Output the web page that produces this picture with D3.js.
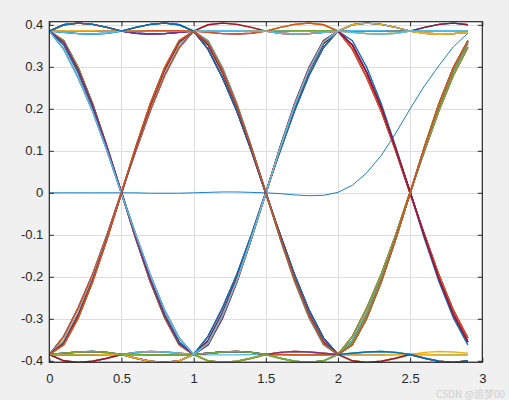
<!DOCTYPE html>
<html>
<head>
<meta charset="utf-8">
<script src="https://cdn.jsdelivr.net/npm/d3@7"></script>
<style>
  body { margin: 0; background: #f0f0f0; }
  svg { display: block; font-family: 'Liberation Sans', Arial, sans-serif; }
</style>
</head>
<body>
<svg class="chartContainer" width="509" height="400"></svg>
<script>
const xTicks = [0, 0.5, 1, 1.5, 2, 2.5, 3]
const yTicks = [-0.4, -0.3, -0.2, -0.1, 0, 0.1, 0.2, 0.3, 0.4]
const yLimits = [-0.4036, 0.4074]

// sample times of every trace (3 symbols, last sample dropped)
const sampleX = [
  0, 0.1, 0.2, 0.3, 0.4, 0.5, 0.6, 0.7, 0.8, 0.9,
  1, 1.1, 1.2, 1.3, 1.4, 1.5, 1.6, 1.7, 1.8, 1.9,
  2, 2.1, 2.2, 2.3, 2.4, 2.5, 2.6, 2.7, 2.8, 2.9
]

// falling edge of one symbol (rising edge = negated)
const fallShapes = [
  [0.385, 0.362, 0.298, 0.212, 0.110, 0, -0.110, -0.212, -0.298, -0.362, -0.385],
  [0.385, 0.352, 0.286, 0.203, 0.105, 0.002, -0.104, -0.205, -0.290, -0.355, -0.385],
  [0.385, 0.342, 0.274, 0.194, 0.100, -0.002, -0.100, -0.196, -0.280, -0.346, -0.385],
  [0.385, 0.358, 0.292, 0.208, 0.108, 0.001, -0.107, -0.208, -0.294, -0.359, -0.385]
]

// half symbol ripple around the +0.385 level (t = 0 .. 0.5)
const highBump = [0.385, 0.400, 0.404, 0.401, 0.394, 0.385]
const flatBump = [0.385, 0.386, 0.386, 0.386, 0.385, 0.385]
const lowBump = [0.385, 0.382, 0.379, 0.378, 0.380, 0.385]

// start level, then one token per symbol: xN = edge variant N, two letters = ripple halves
const traceCodes = [
  '+ x0 x1 x2', '- x1 x0 x2', '+ HL x2 x0', '- LH x1 MM', '+ x2 MM x1',
  '- MM x0 HL', '+ LL x1 x0', '- x0 HH x1', '+ x1 LH HL', '- HL LL x2',
  '+ MH x0 LM', '- x2 x2 HM', '+ HH HL x1', '- LM x1 x0', '+ x0 LM x2',
  '- x1 MH LL', '+ ML x2 MH', '- HM HM x0', '+ x2 x0 LH', '- x0 x2 x1',
  '+ LH MM HH', '- ML x0 x2', '+ x1 HL MM', '- x2 ML x1', '+ HM x1 x2',
  '- LL HH LH', '+ x0 x1 ML', '- MH LH x0', '+ x2 HM x0', '- x1 x1 HH',
  '+ HL LL x2', '- x0 MM ML', '+ LM x0 x1', '- HH x2 MH', '+ x1 x2 HM',
  '- x2 LH x2', '+ MM ML LL', '- LH x0 x1', '+ x0 HH x0', '- x1 ML LM',
  '+ x3 x3 x1', '- x3 x2 x3', '+ HM x3 x3', '- MH x3 HL', '+ x3 LL x3',
  '- LM LH x3', '+ x2 x3 MM', '- x3 x1 HH', '+ HH x3 LH', '- x0 x3 x0'
]

// the single thin blue curve
const baselineTrace = [
  0, 0, 0, 0, 0, 0, 0, -0.001, -0.001, -0.001,
  0, 0.001, 0.002, 0.002, 0.001, 0, -0.002, -0.005, -0.007, -0.006,
  0.001, 0.018, 0.048, 0.089, 0.142, 0.2, 0.255, 0.303, 0.348, 0.38
]

const colors = ['#0072BD', '#D95319', '#EDB120', '#7E2F8E', '#77AC30', '#4DBEEE', '#A2142F']

const plot = { left: 49.3, right: 482.3, top: 21.7, bottom: 362.3 }
const tickLen = 4.5

const bumps = { H: highBump, M: flatBump, L: lowBump }

function buildTrace (code) {
  const [start, ...symbols] = code.split(' ')
  let level = start === '+' ? 1 : -1
  const values = []
  symbols.forEach(s => {
    let seg
    if (s[0] === 'x') {
      seg = fallShapes[+s[1]].map(v => v * level)
      level = -level
    } else {
      const back = bumps[s[1]].slice().reverse().slice(1)
      seg = bumps[s[0]].concat(back).map(v => v * level)
    }
    values.push(...seg.slice(0, 10))
  })
  return values
}

const svg = d3.select('svg.chartContainer')

const x = d3.scaleLinear().domain([0, 3]).range([plot.left, plot.right])
const y = d3.scaleLinear().domain(yLimits).range([plot.bottom, plot.top])

svg.append('rect')
  .attr('x', plot.left)
  .attr('y', plot.top)
  .attr('width', plot.right - plot.left)
  .attr('height', plot.bottom - plot.top)
  .attr('fill', '#fff')

// grid
const gridG = svg.append('g').attr('stroke', '#dedede').attr('stroke-width', 1)
gridG.selectAll('line.vx').data(xTicks).join('line')
  .attr('class', 'vx')
  .attr('x1', d => Math.round(x(d)) + 0.5).attr('x2', d => Math.round(x(d)) + 0.5)
  .attr('y1', plot.top).attr('y2', plot.bottom)
gridG.selectAll('line.hy').data(yTicks).join('line')
  .attr('class', 'hy')
  .attr('y1', d => Math.round(y(d)) + 0.5).attr('y2', d => Math.round(y(d)) + 0.5)
  .attr('x1', plot.left).attr('x2', plot.right)

svg.append('clipPath')
  .attr('id', 'plotClip')
  .append('rect')
  .attr('x', plot.left)
  .attr('y', plot.top)
  .attr('width', plot.right - plot.left)
  .attr('height', plot.bottom - plot.top)

const line = d3.line()
  .x((d, i) => x(sampleX[i]))
  .y(d => y(d))

const linesG = svg.append('g').attr('clip-path', 'url(#plotClip)').attr('fill', 'none')

linesG.append('path')
  .datum(baselineTrace)
  .attr('d', line)
  .attr('stroke', colors[0])
  .attr('stroke-width', 0.9)

linesG.selectAll('path.trace')
  .data(traceCodes.map(buildTrace))
  .join('path')
  .attr('class', 'trace')
  .attr('d', line)
  .attr('stroke', (d, i) => colors[(i + 1) % colors.length])
  .attr('stroke-width', 1.4)

// axes
const fmt = d => String(d)
const styleAxis = g => {
  g.select('.domain').remove()
  g.selectAll('line').attr('stroke', '#262626')
  g.selectAll('text').attr('fill', '#262626').style('font-size', '13px')
}

svg.append('g')
  .attr('transform', `translate(0,${plot.bottom})`)
  .call(d3.axisBottom(x).tickValues(xTicks).tickFormat(fmt).tickSize(-tickLen).tickPadding(11))
  .call(styleAxis)
svg.append('g')
  .attr('transform', `translate(0,${plot.top})`)
  .call(d3.axisTop(x).tickValues(xTicks).tickFormat('').tickSize(-tickLen))
  .call(styleAxis)
svg.append('g')
  .attr('transform', `translate(${plot.left},0)`)
  .call(d3.axisLeft(y).tickValues(yTicks).tickFormat(fmt).tickSize(-tickLen).tickPadding(6))
  .call(styleAxis)
svg.append('g')
  .attr('transform', `translate(${plot.right},0)`)
  .call(d3.axisRight(y).tickValues(yTicks).tickFormat('').tickSize(-tickLen))
  .call(styleAxis)

svg.selectAll('g text').attr('font-family', null)

svg.append('rect')
  .attr('x', plot.left)
  .attr('y', plot.top)
  .attr('width', plot.right - plot.left)
  .attr('height', plot.bottom - plot.top)
  .attr('fill', 'none')
  .attr('stroke', '#262626')
  .attr('stroke-width', 1.2)

svg.append('text')
  .attr('x', 505)
  .attr('y', 397.5)
  .attr('text-anchor', 'end')
  .attr('fill', '#cfcfcf')
  .style('font-size', '10px')
  .style('font-family', "'Noto Sans CJK SC', 'Liberation Sans', sans-serif")
  .text('CSDN @追梦00')
</script>
</body>
</html>
